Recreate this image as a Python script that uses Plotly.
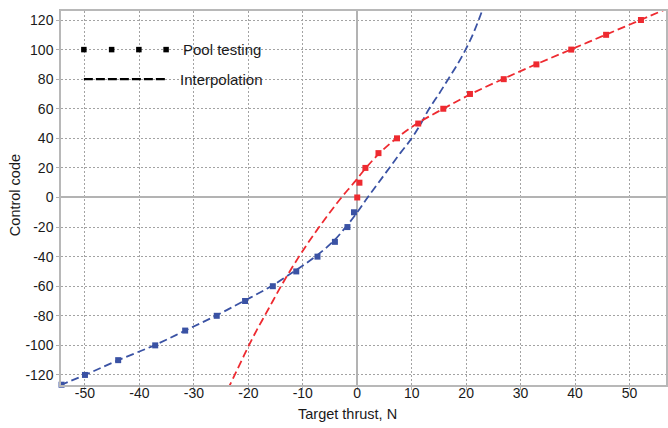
import plotly.graph_objects as go

# Pool-test measurements: target thrust (N) vs control code
neg_thrust = [-54.3, -50.0, -43.9, -37.1, -31.6, -25.8, -20.6, -15.5, -11.2, -7.3, -4.1, -1.8, -0.6]
neg_code = [-126.6, -120, -110, -100, -90, -80, -70, -60, -50, -40, -30, -20, -10]

pos_thrust = [0.0, 0.4, 1.5, 3.9, 7.3, 11.2, 15.8, 20.7, 26.9, 32.9, 39.3, 45.7, 52.1]
pos_code = [0, 10, 20, 30, 40, 50, 60, 70, 80, 90, 100, 110, 120]

# Interpolation curves (thrust at each control code)
curve_code = [-130, -120, -110, -100, -90, -80, -70, -60, -50, -40, -30, -20, -10,
              0, 10, 20, 30, 40, 50, 60, 70, 80, 90, 100, 110, 120, 130]
blue_curve_thrust = [-56.6, -50.0, -43.9, -37.3, -31.6, -26.0, -20.8, -15.8, -11.6, -7.7, -4.5, -2.1, 0.0,
                     1.9, 3.9, 5.9, 7.9, 10.0, 11.7, 13.2, 15.0, 16.7, 18.4, 19.9, 21.2, 22.3, 23.3]
red_curve_thrust = [-23.8, -22.5, -21.2, -19.9, -18.5, -17.0, -15.5, -14.0, -12.4, -10.7, -8.9, -7.0, -5.0,
                    -2.9, -0.6, 1.6, 4.1, 7.2, 11.0, 15.8, 20.9, 26.7, 32.8, 39.2, 45.6, 52.0, 58.4]

x_ticks = [-50, -40, -30, -20, -10, 0, 10, 20, 30, 40, 50]
y_ticks = [-120, -100, -80, -60, -40, -20, 0, 20, 40, 60, 80, 100, 120]

BLUE = "#3a52a4"
RED = "#ee2a30"
FONT = "Liberation Sans, Arial, sans-serif"
TEXT = "#1a1a1a"

W, H = 668, 428
L, R, T, B = 61, 0, 11, 43
plot_w = W - L - R
plot_h = H - T - B

fig = go.Figure()

fig.add_trace(go.Scatter(x=blue_curve_thrust, y=curve_code, mode="lines", line_shape="spline",
                         line=dict(color=BLUE, width=1.8, dash="8px,4px"), hoverinfo="skip"))
fig.add_trace(go.Scatter(x=red_curve_thrust, y=curve_code, mode="lines", line_shape="spline",
                         line=dict(color=RED, width=1.8, dash="8px,4px"), hoverinfo="skip"))
fig.add_trace(go.Scatter(x=neg_thrust, y=neg_code, mode="markers", cliponaxis=False,
                         marker=dict(symbol="square", size=6, color=BLUE)))
fig.add_trace(go.Scatter(x=pos_thrust, y=pos_code, mode="markers", cliponaxis=False,
                         marker=dict(symbol="square", size=6, color=RED)))

# Key drawn inside the plot area
fig.add_trace(go.Scatter(x=[-50.2, -45.1, -40.1, -35.1], y=[100, 100, 100, 100], mode="markers",
                         marker=dict(symbol="square", size=5.5, color="black")))
fig.add_trace(go.Scatter(x=[-50.2, -34.9], y=[80, 80], mode="lines",
                         line=dict(color="black", width=2.4, dash="9px,3px")))
fig.add_annotation(x=-32.4, y=100, xref="x", yref="y", text="Pool testing", showarrow=False,
                   xanchor="left", yanchor="middle", font=dict(family=FONT, size=15, color=TEXT))
fig.add_annotation(x=-33.0, y=80, xref="x", yref="y", text="Interpolation", showarrow=False,
                   xanchor="left", yanchor="middle", font=dict(family=FONT, size=15, color=TEXT))

# Axis titles
fig.add_annotation(x=(348 - L) / plot_w, y=-(414 - (H - B)) / plot_h, xref="paper", yref="paper",
                   text="Target thrust, N", showarrow=False, xanchor="center", yanchor="middle",
                   font=dict(family=FONT, size=14.5, color=TEXT))
fig.add_annotation(x=(15 - L) / plot_w, y=((H - B) - 195) / plot_h, xref="paper", yref="paper",
                   text="Control code", showarrow=False, textangle=-90, xanchor="center", yanchor="middle",
                   font=dict(family=FONT, size=14.5, color=TEXT))

axis_common = dict(
    showgrid=True, gridcolor="#a3a3a3", gridwidth=1, griddash="2px,2px",
    zeroline=True, zerolinecolor="#b3b3b3", zerolinewidth=1.5,
    showline=True, linecolor="#b8b8b8", linewidth=1.5, mirror=True,
    ticks="outside", ticklen=3, tickcolor="#b0b0b0", tickwidth=1,
    tickfont=dict(family=FONT, size=14, color=TEXT),
)

fig.update_xaxes(range=[-54.4, 56.7], tickvals=x_ticks, ticktext=[str(v) for v in x_ticks],
                 ticklabelstandoff=-9, **axis_common)
fig.update_yaxes(range=[-126.8, 126.1], tickvals=y_ticks, ticktext=[str(v) for v in y_ticks], **axis_common)

fig.update_layout(
    width=W, height=H,
    margin=dict(l=L, r=R, t=T, b=B, pad=0),
    paper_bgcolor="white", plot_bgcolor="white",
    showlegend=False,
    font=dict(family=FONT, color=TEXT),
)

fig.write_html("out.html")
